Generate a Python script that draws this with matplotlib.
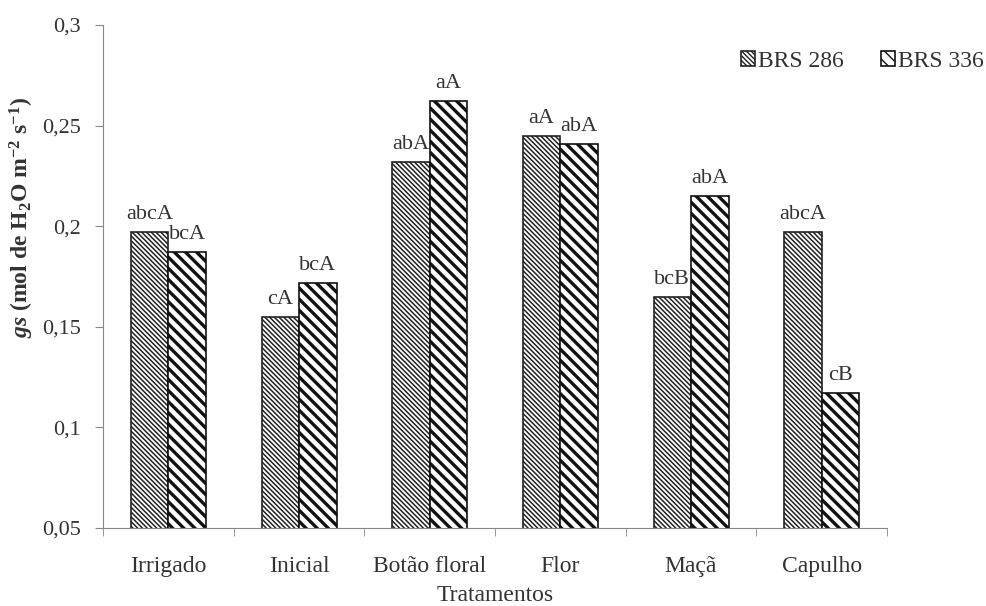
import matplotlib.pyplot as plt
import numpy as np

plt.rcParams['font.family'] = ['Liberation Serif', 'DejaVu Serif']
plt.rcParams['mathtext.fontset'] = 'custom'
plt.rcParams['mathtext.rm'] = 'Liberation Serif'
plt.rcParams['mathtext.it'] = 'Liberation Serif:italic'
plt.rcParams['mathtext.bf'] = 'Liberation Serif:bold'
plt.rcParams['mathtext.bfit'] = 'Liberation Serif:bold:italic'

categorias = ["Irrigado", "Inicial", "Botão floral", "Flor", "Maçã", "Capulho"]
brs286 = [0.197, 0.155, 0.232, 0.245, 0.165, 0.197]
brs336 = [0.187, 0.172, 0.262, 0.241, 0.215, 0.117]
letras286 = ["abcA", "cA", "abA", "aA", "bcB", "abcA"]
letras336 = ["bcA", "bcA", "aA", "abA", "abA", "cB"]
yticks = [0.05, 0.1, 0.15, 0.2, 0.25, 0.3]
ytick_labels = ["0,05", "0,1", "0,15", "0,2", "0,25", "0,3"]

fig = plt.figure(figsize=(9.87, 6.06), dpi=100)
ax = fig.add_axes([0.1044, 0.1287, 0.7943, 0.83])

x = np.arange(len(categorias))
w = 0.287
b1 = ax.bar(x - w/2, brs286, w, color='white', edgecolor='#222222', hatch='\\\\\\\\\\\\\\',
            linewidth=1.2, label='BRS 286')
b2 = ax.bar(x + w/2, brs336, w, color='white', edgecolor='#111111', hatch='\\\\\\',
            linewidth=1.2, label='BRS 336')
for p in b1:
    if hasattr(p, 'set_hatch_linewidth'):
        p.set_hatch_linewidth(1.1)
for p in b2:
    if hasattr(p, 'set_hatch_linewidth'):
        p.set_hatch_linewidth(2.4)

for xi, v, t in zip(x - w/2, brs286, letras286):
    ax.text(xi, v + 0.004, t, ha='center', va='bottom', fontsize=16, color='#333333')
for xi, v, t in zip(x + w/2, brs336, letras336):
    ax.text(xi, v + 0.004, t, ha='center', va='bottom', fontsize=16, color='#333333')

ax.set_ylim(0.05, 0.3)
ax.set_xlim(-0.5, len(categorias) - 0.5)
ax.set_yticks(yticks)
ax.set_yticklabels(ytick_labels, fontsize=16, color='#333333')
ax.set_xticks(x)
ax.set_xticklabels(categorias, fontsize=17, color='#333333')
ax.tick_params(axis='x', length=0, pad=20)
ax.set_xticks(np.arange(len(categorias) + 1) - 0.5, minor=True)
ax.tick_params(axis='x', which='minor', length=6, color='#888888')
ax.tick_params(axis='y', length=6, color='#888888', direction='out', pad=10)

for s in ['top', 'right']:
    ax.spines[s].set_visible(False)
for s in ['left', 'bottom']:
    ax.spines[s].set_color('#888888')

ax.set_xlabel("Tratamentos", fontsize=17, color='#333333', labelpad=6)
ax.set_ylabel(r"$\mathbfit{gs}$ (mol de H$_\mathbf{2}$O m$^\mathbf{-2}$ s$^\mathbf{-1}$)",
              fontsize=17, fontweight='bold', color='#333333')
ax.yaxis.set_label_coords(-0.086, 0.618)

ax.legend(loc='upper right', bbox_to_anchor=(1.15, 0.99), ncol=2, frameon=False,
          fontsize=17, handlelength=0.6, handleheight=0.6, handletextpad=0.1,
          columnspacing=1.6, labelcolor='#333333')

fig.savefig("out.png", dpi=100)
